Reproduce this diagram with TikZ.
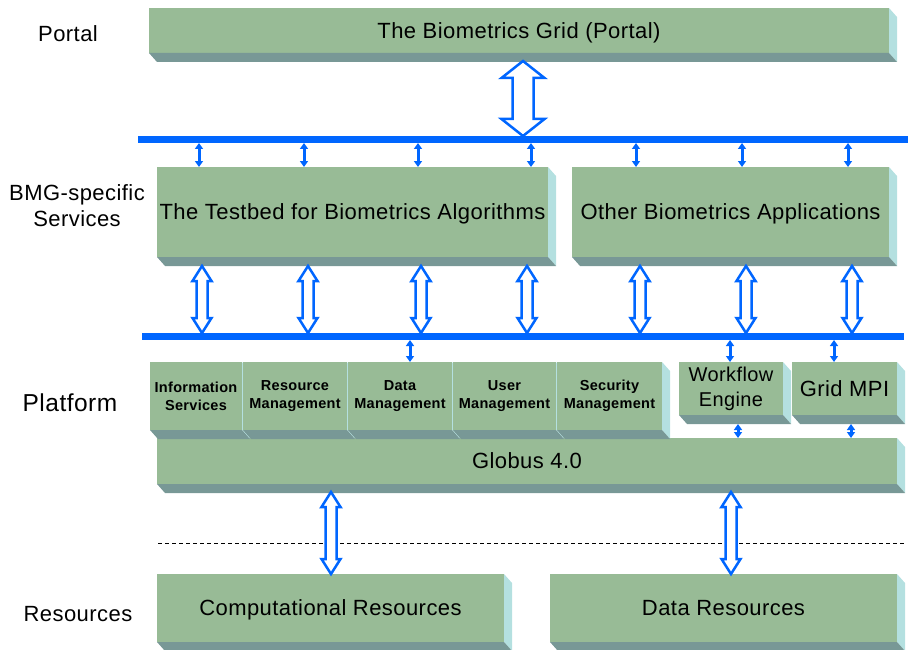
\documentclass[tikz,border=0pt]{standalone}
\usepackage{fontspec}
\setmainfont{Liberation Sans}[LetterSpace=2]
\usetikzlibrary{calc,arrows.meta}
\definecolor{frontc}{RGB}{152,187,150}
\definecolor{botc}{RGB}{120,152,150}
\definecolor{sidec}{RGB}{180,224,224}
\definecolor{busblue}{RGB}{0,102,255}
\newcommand{\boxfaces}[1]{%
  \fill[sidec] (#1.north east) -- ++(8,9) -- ($(#1.south east)+(8,9)$) -- (#1.south east) -- cycle;
  \fill[botc] (#1.south west) -- ++(8,9) -- ($(#1.south east)+(8,9)$) -- (#1.south east) -- cycle;}
\tikzset{
  box/.style={fill=frontc, inner sep=0pt, outer sep=0pt, align=center,
    font=\fontsize{22}{26}\selectfont},
  onebox/.style={box, text depth=0pt},
  pbox/.style={box, font=\bfseries\fontsize{14.5}{18}\selectfont},
  bus/.style={fill=busblue, inner sep=0pt, outer sep=0pt, minimum height=7pt},
  solidarrow/.style={busblue, line width=3pt,
    {Triangle[width=8pt,length=6pt]}-{Triangle[width=8pt,length=6pt]}},
  hollow/.style n args={3}{draw=busblue, line width=2.5pt, fill=white, line join=miter,
    to path={let \p1=(\tikztostart), \p2=(\tikztotarget) in
      (\x1,\y1) -- ({\x1+#1},{\y1-#2}) -- ({\x1+#3},{\y1-#2}) -- ({\x1+#3},{\y2+#2})
      -- ({\x1+#1},{\y2+#2}) -- (\x1,\y2) -- ({\x1-#1},{\y2+#2}) -- ({\x1-#3},{\y2+#2})
      -- ({\x1-#3},{\y1-#2}) -- ({\x1-#1},{\y1-#2}) -- cycle}},
  bighollow/.style={hollow={21.5pt}{17pt}{10.5pt}},
  midhollow/.style={hollow={9.5pt}{15pt}{5.5pt}},
  lab/.style={font=\fontsize{22}{26}\selectfont, align=center, inner sep=0pt},
}
\begin{document}
\begin{tikzpicture}[x=1pt,y=-1pt]
\useasboundingbox (0,0) rectangle (910,650);

% side labels
\node[lab] (lportal) at (68,34) {Portal};
\node[lab] (lbmg) at (77,206) {BMG-specific\\Services};
\node[lab, font=\fontsize{24.5}{28}\selectfont] (lplat) at (70,403) {Platform};
\node[lab] (lres) at (78,614) {Resources};

% portal
\node[onebox, minimum width=740pt, minimum height=45pt] (portal) at (519,30.5) {The Biometrics Grid (Portal)};
\boxfaces{portal}

% buses
\node[bus, minimum width=770pt] (bus1) at (523,139.5) {};
\node[bus, minimum width=762pt] (bus2) at (523,336.5) {};

% BMG services
\node[onebox, minimum width=391pt, minimum height=90pt] (testbed) at (352.5,212) {The Testbed for Biometrics Algorithms};
\boxfaces{testbed}
\node[onebox, minimum width=317pt, minimum height=90pt] (other) at (730.5,212) {Other Biometrics Applications};
\boxfaces{other}

% platform
\node[onebox, minimum width=740pt, minimum height=46pt] (globus) at (527,461) {Globus 4.0};
\boxfaces{globus}
\node[pbox, minimum width=92pt, minimum height=68pt] (info) at (196,396) {Information\\Services};
\boxfaces{info}
\node[pbox, minimum width=104pt, minimum height=68pt] (resm) at (295,396) {Resource\\Management};
\boxfaces{resm}
\node[pbox, minimum width=104pt, minimum height=68pt] (datam) at (400,396) {Data\\Management};
\boxfaces{datam}
\node[pbox, minimum width=103pt, minimum height=68pt] (userm) at (504.5,396) {User\\Management};
\boxfaces{userm}
\node[pbox, minimum width=105pt, minimum height=68pt] (secm) at (609.5,396) {Security\\Management};
\boxfaces{secm}
\node[box, font=\fontsize{20}{25}\selectfont, minimum width=104pt, minimum height=53pt] (wf) at (731,388.5) {Workflow\\Engine};
\boxfaces{wf}
\node[onebox, minimum width=105pt, minimum height=53pt] (mpi) at (844.5,388.5) {Grid MPI};
\boxfaces{mpi}

% resources
\node[onebox, minimum width=347pt, minimum height=68pt] (comp) at (330.5,608) {Computational Resources};
\boxfaces{comp}
\node[onebox, minimum width=347pt, minimum height=68pt] (datares) at (723.5,608) {Data Resources};
\boxfaces{datares}

% dashed separator
\coordinate (dl) at (158,543);
\coordinate (dr) at (905,543);
\draw[line width=0.9pt, dash pattern=on 4pt off 3pt] (dl) -- (dr);

% x positions
\coordinate (xb) at (523,0);
\foreach \k/\x in {s1/199,s2/304,s3/418,s4/531,s5/636,s6/742,s7/848,
                   h1/202,h2/308,h3/421,h4/527,h5/640,h6/746,h7/852,
                   d1/410,d2/730,d3/834,w1/738,w2/851,r1/331,r2/731}
  \coordinate (\k) at (\x,0);

% big hollow arrow portal <-> bus1
\draw[bighollow] ($(portal.south -| xb)+(0,8)$) to (bus1.north -| xb);

% small arrows bus1 -> services
\foreach \k in {s1,s2,s3,s4}
  \draw[solidarrow] (bus1.south -| \k) -- (testbed.north -| \k);
\foreach \k in {s5,s6,s7}
  \draw[solidarrow] (bus1.south -| \k) -- (other.north -| \k);

% hollow arrows services -> bus2
\draw[midhollow] ($(testbed.south -| h1)+(0,9)$) to (bus2.north -| h1);
\draw[midhollow] ($(testbed.south -| h2)+(0,9)$) to (bus2.north -| h2);
\draw[midhollow] ($(testbed.south -| h3)+(0,9)$) to (bus2.north -| h3);
\draw[midhollow] ($(testbed.south -| h4)+(0,9)$) to (bus2.north -| h4);
\draw[midhollow] ($(other.south -| h5)+(0,9)$) to (bus2.north -| h5);
\draw[midhollow] ($(other.south -| h6)+(0,9)$) to (bus2.north -| h6);
\draw[midhollow] ($(other.south -| h7)+(0,9)$) to (bus2.north -| h7);

% small arrows bus2 -> platform
\draw[solidarrow] (bus2.south -| d1) -- (datam.north -| d1);
\draw[solidarrow] (bus2.south -| d2) -- (wf.north -| d2);
\draw[solidarrow] (bus2.south -| d3) -- (mpi.north -| d3);

% workflow / mpi -> globus
\draw[solidarrow] ($(wf.south -| w1)+(0,9)$) -- (globus.north -| w1);
\draw[solidarrow] ($(mpi.south -| w2)+(0,9)$) -- (globus.north -| w2);

% globus -> resources
\draw[midhollow] ($(globus.south -| r1)+(0,8)$) to (comp.north -| r1);
\draw[midhollow] ($(globus.south -| r2)+(0,8)$) to (datares.north -| r2);
\end{tikzpicture}
\end{document}
